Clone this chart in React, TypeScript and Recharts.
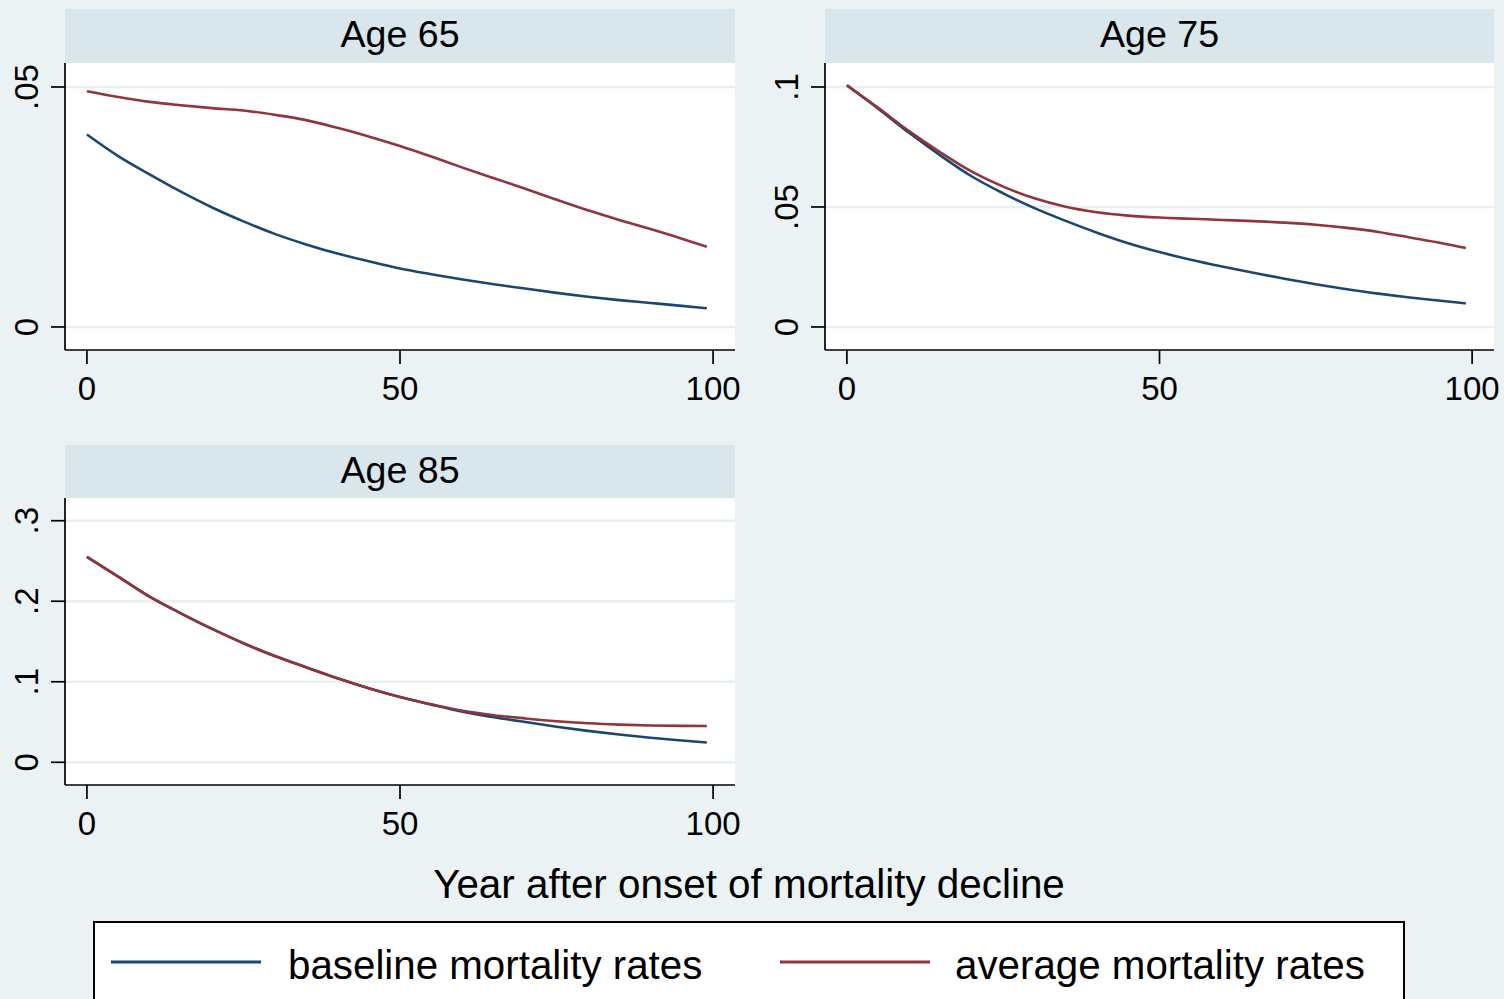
import React from 'react';
import { LineChart, Line, XAxis, YAxis, CartesianGrid } from 'recharts';

// ---------- data ----------
const years = [0, 5, 10, 15, 20, 25, 30, 35, 40, 45, 50, 55, 60, 65, 70, 75, 80, 85, 90, 95, 99];

const age65Baseline = [0.0401, 0.0356, 0.0318, 0.0282, 0.0249, 0.0220, 0.0194, 0.0172, 0.0153, 0.0137, 0.0122, 0.0110, 0.0099, 0.0089, 0.0080, 0.0071, 0.0063, 0.0056, 0.0050, 0.0044, 0.0039];
const age65Average = [0.0491, 0.0479, 0.0469, 0.0462, 0.0456, 0.0451, 0.0442, 0.0431, 0.0415, 0.0397, 0.0377, 0.0355, 0.0332, 0.0310, 0.0288, 0.0265, 0.0243, 0.0223, 0.0204, 0.0184, 0.0167];

const age75Baseline = [0.1007, 0.0910, 0.0808, 0.0714, 0.0627, 0.0557, 0.0495, 0.0442, 0.0393, 0.0349, 0.0312, 0.0280, 0.0252, 0.0226, 0.0201, 0.0178, 0.0157, 0.0139, 0.0123, 0.0109, 0.0098];
const age75Average = [0.1007, 0.0913, 0.0815, 0.0727, 0.0647, 0.0585, 0.0536, 0.0501, 0.0478, 0.0464, 0.0456, 0.0451, 0.0446, 0.0441, 0.0435, 0.0426, 0.0413, 0.0396, 0.0373, 0.0350, 0.0329];

const age85Baseline = [0.2550, 0.2305, 0.2057, 0.1850, 0.1656, 0.1478, 0.1320, 0.1180, 0.1043, 0.0920, 0.0810, 0.0716, 0.0628, 0.0560, 0.0500, 0.0442, 0.0390, 0.0345, 0.0305, 0.0270, 0.0245];
const age85Average = [0.2550, 0.2305, 0.2057, 0.1850, 0.1656, 0.1478, 0.1320, 0.1180, 0.1043, 0.0920, 0.0812, 0.0720, 0.0640, 0.0585, 0.0545, 0.0510, 0.0485, 0.0468, 0.0457, 0.0452, 0.0450];

const panelTitles = ['Age 65', 'Age 75', 'Age 85'];
const xTicks = [0, 50, 100];
const age65YTicks = [0, 0.05];
const age75YTicks = [0, 0.05, 0.1];
const age85YTicks = [0, 0.1, 0.2, 0.3];

const seriesNames = ['baseline mortality rates', 'average mortality rates'];
const xAxisTitle = 'Year after onset of mortality decline';

// ---------- styling ----------
const W = 1504;
const H = 999;
const BG = '#EAF2F3';
const STRIP = '#D9E6EB';
const GRID = '#E6EFF1';
const NAVY = '#1A476F';
const MAROON = '#90353B';
const FONT = '"Liberation Sans", Arial, Helvetica, sans-serif';

const build = (b: number[], a: number[]) =>
  years.map((y, i) => ({ year: y, baseline: b[i], average: a[i] }));

const panels = [
  {
    title: panelTitles[0],
    data: build(age65Baseline, age65Average),
    yTicks: age65YTicks,
    yDomain: [-0.0048, 0.055],
    left: 65, right: 735, stripTop: 9, top: 63, bottom: 350,
  },
  {
    title: panelTitles[1],
    data: build(age75Baseline, age75Average),
    yTicks: age75YTicks,
    yDomain: [-0.0096, 0.11],
    left: 825, right: 1494, stripTop: 9, top: 63, bottom: 350,
  },
  {
    title: panelTitles[2],
    data: build(age85Baseline, age85Average),
    yTicks: age85YTicks,
    yDomain: [-0.0282, 0.3282],
    left: 65, right: 735, stripTop: 445, top: 498, bottom: 785,
  },
];

const fmt = (v: number) => (v === 0 ? '0' : String(v).replace(/^0/, ''));

const XTick = (props: any) => {
  const { x, y, payload } = props;
  return (
    <text x={x} y={y + 36} textAnchor="middle" fontSize={33} fontFamily={FONT} fill="#000">
      {fmt(payload.value)}
    </text>
  );
};

const YTick = (props: any) => {
  const { x, y, payload } = props;
  const bx = x - 13;
  return (
    <text
      x={bx}
      y={y}
      transform={`rotate(-90 ${bx} ${y})`}
      textAnchor="middle"
      fontSize={33}
      fontFamily={FONT}
      fill="#000"
    >
      {fmt(payload.value)}
    </text>
  );
};

export default function App() {
  return (
    <div
      style={{
        position: 'absolute',
        left: 0,
        top: 0,
        width: W,
        height: H,
        background: BG,
        overflow: 'hidden',
        fontFamily: FONT,
      }}
    >
      {/* strips, axis title, legend */}
      <svg width={W} height={H} style={{ position: 'absolute', left: 0, top: 0 }}>
        {panels.map((p) => (
          <g key={p.title}>
            <rect x={p.left} y={p.stripTop} width={p.right - p.left} height={p.top - p.stripTop} fill={STRIP} />
            <text
              x={(p.left + p.right) / 2}
              y={p.stripTop + 38}
              textAnchor="middle"
              fontSize={37.6}
              fontFamily={FONT}
              fill="#000"
            >
              {p.title}
            </text>
          </g>
        ))}
        <text x={749} y={898} textAnchor="middle" fontSize={40.4} fontFamily={FONT} fill="#000">
          {xAxisTitle}
        </text>
        <rect x={94} y={922} width={1310} height={90} fill="#fff" stroke="#000" strokeWidth={2} />
        <line x1={111} x2={261} y1={962} y2={962} stroke={NAVY} strokeWidth={3} />
        <text x={288} y={979} fontSize={40.3} fontFamily={FONT} fill="#000">
          {seriesNames[0]}
        </text>
        <line x1={780} x2={930} y1={962} y2={962} stroke={MAROON} strokeWidth={3} />
        <text x={955} y={979} fontSize={40.3} fontFamily={FONT} fill="#000">
          {seriesNames[1]}
        </text>
      </svg>

      {panels.map((p) => (
        <div key={p.title + '-chart'} style={{ position: 'absolute', left: 0, top: 0 }}>
          <LineChart
            width={W}
            height={H}
            data={p.data}
            margin={{ top: p.top, left: p.left - 1, right: W - p.right, bottom: H - p.bottom - 1 }}
          >
            <CartesianGrid
              vertical={false}
              syncWithTicks
              stroke={GRID}
              strokeWidth={2.5}
              fill="#fff"
              fillOpacity={1}
            />
            <XAxis
              type="number"
              dataKey="year"
              domain={[-3.5, 103.5]}
              allowDataOverflow
              ticks={xTicks}
              height={1}
              tickSize={14}
              tickMargin={0}
              tick={<XTick />}
              axisLine={{ stroke: '#000', strokeWidth: 1.7 }}
              tickLine={{ stroke: '#000', strokeWidth: 1.7 }}
            />
            <YAxis
              type="number"
              domain={p.yDomain as [number, number]}
              allowDataOverflow
              ticks={p.yTicks}
              width={1}
              tickSize={14}
              tickMargin={0}
              tick={<YTick />}
              axisLine={{ stroke: '#000', strokeWidth: 1.7 }}
              tickLine={{ stroke: '#000', strokeWidth: 1.7 }}
            />
            <Line
              type="monotone"
              dataKey="baseline"
              name={seriesNames[0]}
              stroke={NAVY}
              strokeWidth={2.6}
              dot={false}
              isAnimationActive={false}
            />
            <Line
              type="monotone"
              dataKey="average"
              name={seriesNames[1]}
              stroke={MAROON}
              strokeWidth={2.6}
              dot={false}
              isAnimationActive={false}
            />
          </LineChart>
        </div>
      ))}
    </div>
  );
}
